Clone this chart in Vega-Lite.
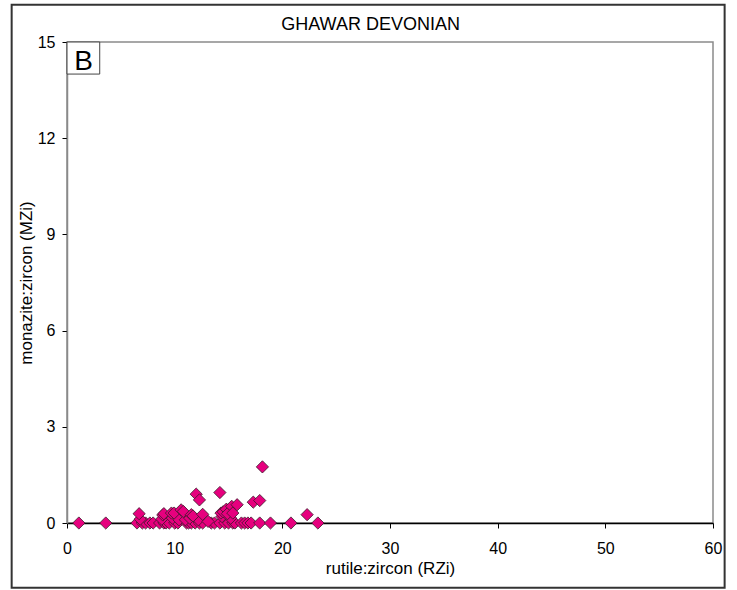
{
  "$schema": "https://vega.github.io/schema/vega-lite/v6.json",
  "autosize": {"type": "none"},
  "padding": {"left": 67, "top": 42, "right": 24, "bottom": 67},
  "width": 646,
  "height": 481,
  "background": "white",
  "config": {
    "font": "Liberation Sans",
    "view": {"stroke": "#8a8a8a", "strokeWidth": 1.5},
    "axis": {"grid": false, "zindex": 1}
  },
  "layer": [
    {
      "data": {"values": [{}]},
      "mark": {"type": "rect", "fill": null, "fillOpacity": 0, "stroke": "#333333", "strokeWidth": 2, "clip": false},
      "encoding": {
        "x": {"datum": -5.14, "type": "quantitative"},
        "x2": {"datum": 61.08},
        "y": {"datum": -2.02, "type": "quantitative"},
        "y2": {"datum": 16.16}
      }
    },
    {
      "data": {"values": [{"title": "GHAWAR DEVONIAN"}]},
      "mark": {"type": "text", "fontSize": 18, "font": "Liberation Sans", "baseline": "alphabetic", "align": "center", "clip": false, "color": "#000000"},
      "encoding": {
        "x": {"datum": 28.2, "type": "quantitative"},
        "y": {"datum": 15.36, "type": "quantitative"},
        "text": {"field": "title"}
      }
    },
    {
      "data": {"values": [{"panel": "B"}]},
      "mark": {"type": "rect", "fill": "white", "stroke": "#444444", "strokeWidth": 1},
      "encoding": {
        "x": {"datum": 0, "type": "quantitative"},
        "x2": {"datum": 3.04},
        "y": {"datum": 14, "type": "quantitative"},
        "y2": {"datum": 15}
      }
    },
    {
      "data": {"values": [{"panel": "B"}]},
      "mark": {"type": "text", "fontSize": 28, "baseline": "alphabetic", "align": "center", "color": "#000000"},
      "encoding": {
        "x": {"datum": 1.53, "type": "quantitative"},
        "y": {"datum": 14.135, "type": "quantitative"},
        "text": {"field": "panel"}
      }
    },
    {
      "data": {
        "values": [
          {"RZi": 1.1, "MZi": 0}, {"RZi": 3.6, "MZi": 0}, {"RZi": 6.5, "MZi": 0}, {"RZi": 7.0, "MZi": 0},
          {"RZi": 7.3, "MZi": 0}, {"RZi": 7.7, "MZi": 0}, {"RZi": 8.0, "MZi": 0}, {"RZi": 8.6, "MZi": 0},
          {"RZi": 9.0, "MZi": 0}, {"RZi": 9.2, "MZi": 0}, {"RZi": 9.5, "MZi": 0}, {"RZi": 10.0, "MZi": 0},
          {"RZi": 10.3, "MZi": 0}, {"RZi": 11.1, "MZi": 0}, {"RZi": 11.3, "MZi": 0}, {"RZi": 11.55, "MZi": 0},
          {"RZi": 11.9, "MZi": 0}, {"RZi": 12.3, "MZi": 0}, {"RZi": 12.6, "MZi": 0}, {"RZi": 13.4, "MZi": 0},
          {"RZi": 13.7, "MZi": 0}, {"RZi": 14.2, "MZi": 0}, {"RZi": 14.65, "MZi": 0}, {"RZi": 15.0, "MZi": 0},
          {"RZi": 15.4, "MZi": 0}, {"RZi": 15.6, "MZi": 0}, {"RZi": 16.2, "MZi": 0}, {"RZi": 16.5, "MZi": 0},
          {"RZi": 16.8, "MZi": 0}, {"RZi": 17.1, "MZi": 0}, {"RZi": 17.9, "MZi": 0}, {"RZi": 18.9, "MZi": 0},
          {"RZi": 20.8, "MZi": 0}, {"RZi": 23.3, "MZi": 0},
          {"RZi": 6.8, "MZi": 0.12}, {"RZi": 8.8, "MZi": 0.12}, {"RZi": 9.8, "MZi": 0.15}, {"RZi": 10.4, "MZi": 0.1},
          {"RZi": 11.0, "MZi": 0.1}, {"RZi": 11.4, "MZi": 0.15}, {"RZi": 12.2, "MZi": 0.1}, {"RZi": 13.1, "MZi": 0.05},
          {"RZi": 14.4, "MZi": 0.2}, {"RZi": 15.2, "MZi": 0.15},
          {"RZi": 6.7, "MZi": 0.29}, {"RZi": 8.9, "MZi": 0.25}, {"RZi": 9.0, "MZi": 0.29}, {"RZi": 9.7, "MZi": 0.31},
          {"RZi": 9.95, "MZi": 0.31}, {"RZi": 10.6, "MZi": 0.41}, {"RZi": 10.8, "MZi": 0.36}, {"RZi": 11.55, "MZi": 0.26},
          {"RZi": 11.7, "MZi": 0.22}, {"RZi": 12.6, "MZi": 0.27}, {"RZi": 14.3, "MZi": 0.31}, {"RZi": 14.5, "MZi": 0.35},
          {"RZi": 14.8, "MZi": 0.43}, {"RZi": 14.9, "MZi": 0.29}, {"RZi": 15.3, "MZi": 0.52}, {"RZi": 15.4, "MZi": 0.31},
          {"RZi": 15.8, "MZi": 0.57}, {"RZi": 12.0, "MZi": 0.9}, {"RZi": 12.3, "MZi": 0.72}, {"RZi": 14.2, "MZi": 0.95},
          {"RZi": 17.3, "MZi": 0.65}, {"RZi": 17.9, "MZi": 0.7}, {"RZi": 18.15, "MZi": 1.75}, {"RZi": 22.3, "MZi": 0.26}
        ]
      },
      "mark": {"type": "point", "shape": "diamond", "filled": true, "size": 150, "fill": "#E6007E", "stroke": "#3a1a2a", "strokeWidth": 0.8, "opacity": 1},
      "encoding": {
        "x": {
          "field": "RZi", "type": "quantitative",
          "scale": {"domain": [0, 60], "nice": false, "zero": false},
          "axis": {
            "title": "rutile:zircon (RZi)", "values": [0, 10, 20, 30, 40, 50, 60],
            "labelFontSize": 16, "labelColor": "#000", "labelPadding": 12,
            "titleFontSize": 17, "titleFontWeight": "normal", "titleColor": "#000", "titlePadding": 4,
            "domainColor": "#000", "domainWidth": 1.5, "tickColor": "#000", "tickSize": 5, "tickWidth": 1,
            "labelFlush": false
          }
        },
        "y": {
          "field": "MZi", "type": "quantitative",
          "scale": {"domain": [0, 15], "nice": false, "zero": false},
          "axis": {
            "title": "monazite:zircon (MZi)", "values": [0, 3, 6, 9, 12, 15],
            "labelFontSize": 16, "labelColor": "#000", "labelPadding": 7,
            "titleFontSize": 17, "titleFontWeight": "normal", "titleColor": "#000", "titlePadding": 2,
            "domainColor": "#8a8a8a", "domainWidth": 1.5, "tickColor": "#000", "tickSize": 5, "tickWidth": 1,
            "labelFlush": false
          }
        }
      }
    }
  ]
}
